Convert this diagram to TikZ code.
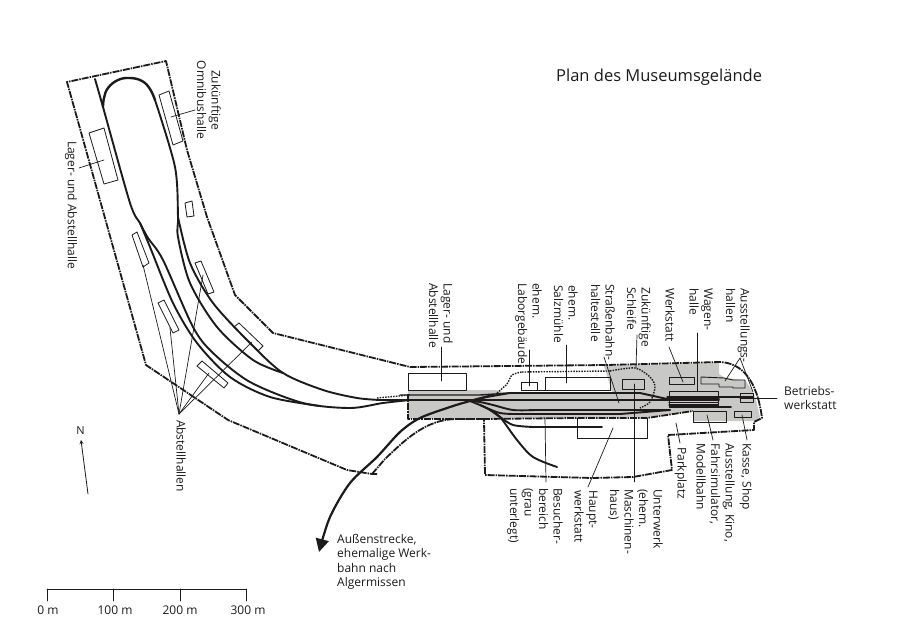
\documentclass[tikz,border=0pt]{standalone}
\usepackage{fontspec}
\setmainfont{Open Sans}
\usetikzlibrary{arrows.meta}
\definecolor{areagray}{RGB}{200,200,198}
\definecolor{inkblack}{RGB}{28,26,26}
\begin{document}
\begin{tikzpicture}[x=1pt,y=-1pt,line join=round,line cap=round,>=stealth,color=inkblack]
    \tikzset{boundary/.style={line width=1.8pt,line cap=butt,dash pattern=on 7pt off 1pt on 1.5pt off 1pt},
        track/.style={line width=1.9pt},
        thintrack/.style={line width=1.4pt},
        futuretrack/.style={line width=1.4pt,line cap=butt,dash pattern=on 1.5pt off 1.2pt},
        hall/.style={draw,line width=0.8pt},
        yardhall/.style={draw,line width=0.9pt},
        leader/.style={line width=0.7pt},
        vlabel/.style={rotate=-90,anchor=north west,align=left,inner sep=0pt,font=\fontsize{12}{14.5}\selectfont},
        clabel/.style={rotate=-90,align=center,inner sep=0pt,font=\fontsize{12}{14.5}\selectfont},
        hlabel/.style={anchor=west,align=left,inner sep=0pt,font=\fontsize{12}{14.5}\selectfont}}
    \useasboundingbox (0,0) rectangle (900,639);
    % visitor area
    \fill[areagray] (408,390) -- (495,390) -- (503,392) -- (612,392) -- (604,366) -- (719,363) -- (719,374)
        -- (725,378) -- (745,380) -- (752,390) -- (756,400) -- (760,417) -- (755,421) -- (693,421) -- (693,411)
        -- (647,417) -- (408,419) -- cycle;
    % halls
    \draw[hall] (159,95) -- (169,91) -- (183,141) -- (173,145) -- cycle;
    \draw[hall] (89,133) -- (104,128) -- (118,180) -- (104,184) -- cycle;
    \draw[hall] (185,203) -- (192,201) -- (194,216) -- (187,217) -- cycle;
    \draw[hall] (132,235) -- (137,232) -- (149,263) -- (143,267) -- cycle;
    \draw[hall] (158,303) -- (164,300) -- (179,330) -- (173,333) -- cycle;
    \draw[hall] (195,263) -- (201,261) -- (214,292) -- (208,294) -- cycle;
    \draw[hall] (234,327) -- (239,323) -- (263,346) -- (258,351) -- cycle;
    \draw[hall] (197,366) -- (202,361) -- (228,383) -- (224,388) -- cycle;
    \draw[yardhall] (408,373) rectangle (466,390);
    \draw[yardhall] (521,382) rectangle (537,390);
    \draw[yardhall] (537,390) -- (545,390) -- (545,377) -- (610,377) -- (610,390) -- (545,390);
    \draw[yardhall] (622,379) rectangle (644,389);
    \draw[yardhall] (669,377) rectangle (694,384);
    \draw[yardhall,draw=inkblack,fill=areagray] (701,377) -- (724,378) -- (733,380) -- (745,380) -- (745,388) -- (733,388) -- (733,387)
        -- (719,387) -- (719,384) -- (701,384) -- cycle;
    \draw[yardhall] (669,391) rectangle (718,407);
    \draw[yardhall] (740,393) rectangle (753,402);
    \draw[yardhall] (693,411) rectangle (726,422);
    \draw[yardhall] (734,411) rectangle (751,417);
    \draw[yardhall] (577,418) -- (577,438) -- (647,438) -- (647,418);
    % site boundary
    \draw[boundary] (483,419) -- (408,419) -- (408,394);
    \draw[boundary] (377,474) -- (372,474) -- (347,470) -- (228,420) -- (146,365) -- (67,82) -- (166,61)
        -- (187,150) -- (207,217) -- (235,295) -- (273,333) -- (410,367) -- (607,365) -- (720,362)
        .. controls (742,363) and (757,380) .. (762,418) -- (754,422) -- (754,430) -- (668,435) -- (672,470)
        -- (633,477) -- (592,478) -- (485,475) -- (484,420);
    \draw[boundary] (372,474) -- (385,459) .. controls (405,440) and (425,420) .. (455,419) -- (483,419);
    \draw[boundary] (483,419) -- (577,418) -- (647,418) -- (693,411);
    % tracks on the left
    \draw[track] plot[smooth] coordinates {(95,79) (103,107) (130,203) (140,223) (148,238) (163,260) (193,327) (213,353) (250,382) (303,403) (350,408) (383,403) (410,400)};
    \draw[track] plot[smooth] coordinates {(140,223) (150,247) (173,303) (197,343) (230,377) (270,397) (320,406)};
    \draw[track,line width=2.4pt] plot[smooth,tension=0.7] coordinates {(103,107) (104,98) (108,88) (118,80) (130,78) (142,81) (150,89) (155,100)};
    \draw[track] plot[smooth] coordinates {(155,100) (175,167) (178,217) (178,237) (190,283) (217,327) (253,360) (283,373)};
    \draw[track] plot[smooth] coordinates {(178,217) (190,263) (213,303) (250,343) (283,373) (323,390) (357,398) (380,400)};
    % tracks in the yard
    \draw[track] (380,400) -- (719,400);
    \draw[thintrack] (400,395) -- (480,395) -- (510,393);
    \draw[track] (510,393) -- (620,393) -- (640,393) -- (667,399) -- (719,399);
    \draw[track] plot[smooth] coordinates {(470,401) (487,397) (510,393)};
    \draw[track] plot[smooth] coordinates {(470,401) (480,402) (493,405) (513,410) (535,410)};
    \draw[track] (535,410) -- (670,410);
    \draw[track] plot[smooth] coordinates {(470,401) (480,405) (500,413) (520,414)};
    \draw[track] (520,414) -- (620,414) -- (670,410);
    \draw[track] plot[smooth] coordinates {(480,405) (490,410) (500,417) (513,425) (533,427)};
    \draw[track] (533,427) -- (602,427);
    \draw[track] plot[smooth] coordinates {(490,410) (500,417) (517,440) (533,457) (557,467)};
    \foreach \yy in {402.5,405}
        \draw[line width=1.2pt] (669,\yy) -- (718,\yy);
    \draw[thintrack] (667,397) -- (753,397);
    \draw[track] (670,407) -- (731,407);
    \draw[line width=2.2pt,-{Triangle[length=13pt,width=13pt]}] plot[smooth] coordinates {(493,395) (470,401) (450,407) (420,418) (400,432) (377,457) (350,483) (330,517) (319,552)};
    % planned tracks
    \draw[futuretrack] (377,398) -- (410,395);
    \draw[futuretrack] plot[smooth] coordinates {(497,393) (507,384) (512,375) (522,372)};
    \draw[futuretrack] (522,372) -- (610,371);
    \draw[futuretrack] plot[smooth] coordinates {(610,371) (635,368) (650,377) (655,387) (650,402) (640,408)};
    % labels
    \node[anchor=west,inner sep=0pt,font=\fontsize{16.5}{19}\selectfont] (title) at (556,77) {Plan des Museumsgelände};
    \node[clabel] (omnibus) at (209,100) {Zukünftige\\Omnibushalle};
    \node[clabel] (lagerleft) at (71,205) {Lager- und Abstellhalle};
    \node[clabel] (abstell) at (181,456) {Abstellhallen};
    \node[vlabel] (lager) at (453,283) {Lager- und\\Abstellhalle};
    \node[vlabel] (labor) at (542,283) {ehem.\\Laborgebäude};
    \node[vlabel] (salz) at (578,285) {ehem.\\Salzmühle};
    \node[vlabel] (halte) at (615,284) {Straßenbahn-\\haltestelle};
    \node[vlabel] (schleife) at (651,287) {Zukünftige\\Schleife};
    \node[vlabel] (werkstatt) at (675,288) {Werkstatt};
    \node[vlabel] (wagen) at (713,288) {Wagen-\\halle};
    \node[vlabel] (ausst) at (750,288) {Ausstellungs-\\hallen};
    \node[hlabel] (betrieb) at (784,398) {Betriebs-\\werkstatt};
    \node[vlabel] (kasse) at (752,443) {Kasse, Shop};
    \node[vlabel] (kino) at (735,443) {Ausstellung, Kino,\\Fahrsimulator,\\Modellbahn};
    \node[vlabel] (park) at (687,447) {Parkplatz};
    \node[vlabel] (unterwerk) at (663,489) {Unterwerk\\(ehem.\\Maschinen-\\haus)};
    \node[vlabel] (haupt) at (598,490) {Haupt-\\werkstatt};
    \node[vlabel] (besucher) at (563,488) {Besucher-\\bereich\\(grau\\unterlegt)};
    \node[hlabel] (aussen) at (337,562) {Außenstrecke,\\ehemalige Werk-\\bahn nach\\Algermissen};
    % leader lines
    \foreach \nm/\from/\to in {omni/{171,117}/{195,110},lagl/{79,168}/{104,160},
        abs1/{179,414}/{143,265},abs2/{179,414}/{170,328},abs3/{179,414}/{203,275},abs4/{179,414}/{209,373},abs5/{179,414}/{252,342},
        lag/{441,347}/{441,381},lab/{529,350}/{529,386},sal/{566,345}/{566,383},hal/{604,357}/{619,403},
        sch/{637,335}/{636,368},wst/{669,347}/{683,382},wag/{697.5,333}/{697.5,391},
        aus1/{740,358}/{725,381},aus2/{740,358}/{753,392},bet/{740,398}/{777,398},
        kas/{742,415}/{747,440},fah/{707,415}/{713,440},par/{676,423}/{680,443},
        unt/{634,384}/{634,482},hau/{588,487}/{613,428},bes/{545,418}/{546,482}}{
        \coordinate (\nm-a) at (\from);
        \coordinate (\nm-b) at (\to);
        \draw[leader] (\nm-a) -- (\nm-b);
    }
    % north arrow
    \node[inner sep=0pt,font=\fontsize{11}{12}\selectfont] (north) at (80.5,431) {N};
    \coordinate (northfoot) at (88,494);
    \coordinate (northtip) at (81,440);
    \draw[leader,line width=0.8pt,->] (northfoot) -- (northtip);
    % scale bar
    \coordinate (bar0) at (47,589);
    \coordinate (bar3) at (246.5,589);
    \draw[line width=0.9pt] (bar0) -- (bar3);
    \foreach \xx/\lab/\nm/\xl in {47/0 m/a/48,113.5/100 m/b/115,180/200 m/c/180,246.5/300 m/d/248}{
        \draw[line width=0.9pt] (\xx,589) -- (\xx,601);
        \node[inner sep=0pt,font=\fontsize{12}{14}\selectfont] (scale\nm) at (\xl,610) {\lab};
    }
\end{tikzpicture}
\end{document}
